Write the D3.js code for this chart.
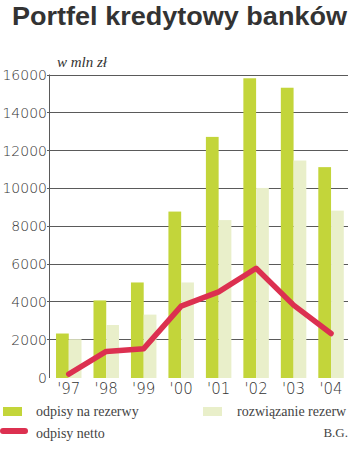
<!DOCTYPE html>
<html><head><meta charset="utf-8">
<script src="https://cdn.jsdelivr.net/npm/d3@7"></script>
<style>html,body{margin:0;padding:0;background:#fff;}svg{display:block;}</style>
</head><body>
<script>
const years = ["'97","'98","'99","'00","'01","'02","'03","'04"];
const odpisyNaRezerwy = [2300, 4050, 5000, 8750, 12700, 15800, 15300, 11100];
const rozwiazanieRezerw = [2000, 2750, 3300, 5000, 8300, 10000, 11450, 8800];
const odpisyNetto = [150, 1350, 1500, 3750, 4500, 5750, 3800, 2300];
const yTicks = [0, 2000, 4000, 6000, 8000, 10000, 12000, 14000, 16000];

const W = 350, H = 461;
const svg = d3.select("body").append("svg").attr("width", W).attr("height", H);

const cGreen = "#c3d53a", cLight = "#e9efca", cRed = "#dc3050", cText = "#333";
const serif = "'Liberation Serif', 'DejaVu Serif', serif";
const sans = "'DejaVu Sans', sans-serif";

svg.append("text").attr("x", 12).attr("y", 25)
  .attr("font-family", "'Liberation Sans', Arial, sans-serif").attr("font-weight", "bold")
  .attr("font-size", 25).attr("fill", cText)
  .attr("textLength", 335).attr("lengthAdjust", "spacingAndGlyphs")
  .text("Portfel kredytowy banków");

svg.append("text").attr("x", 57).attr("y", 67)
  .style("font-family", serif).style("font-style", "italic")
  .attr("font-size", 15).attr("fill", cText).text("w mln zł");

const y = d3.scaleLinear().domain([0, 16000]).range([377, 74.5]);
const x = d3.scaleBand().domain(years).range([49, 348]).paddingInner(0.32).paddingOuter(0.15).align(0.625);
const xs = d3.scaleBand().domain(["a", "b"]).range([0, x.bandwidth()]);

// gridlines
svg.append("g").selectAll("line").data(yTicks.filter(d => d > 0)).join("line")
  .attr("x1", 47).attr("x2", 348).attr("y1", d => Math.round(y(d)) + 0.5).attr("y2", d => Math.round(y(d)) + 0.5)
  .attr("stroke", "#5a5a5a").attr("stroke-width", 1);

// y tick labels
svg.append("g").selectAll("text").data(yTicks).join("text")
  .attr("x", 47).attr("y", d => y(d) + 5.5).attr("text-anchor", "end")
  .style("font-family", sans).style("font-weight", 300)
  .attr("font-size", 14).attr("fill", cText).text(d => d);

// bars
svg.append("g").selectAll("rect").data(years).join("rect")
  .attr("x", d => x(d) + xs("a")).attr("width", xs.bandwidth())
  .attr("y", (d, i) => y(odpisyNaRezerwy[i])).attr("height", (d, i) => y(0) + 1 - y(odpisyNaRezerwy[i]))
  .attr("fill", cGreen);
svg.append("g").selectAll("rect").data(years).join("rect")
  .attr("x", d => x(d) + xs("b")).attr("width", xs.bandwidth())
  .attr("y", (d, i) => y(rozwiazanieRezerw[i])).attr("height", (d, i) => y(0) + 1 - y(rozwiazanieRezerw[i]))
  .attr("fill", cLight);

// left axis line
svg.append("line").attr("x1", 49.5).attr("x2", 49.5).attr("y1", y(16000)).attr("y2", y(0) + 1)
  .attr("stroke", "#5a5a5a").attr("stroke-width", 1);

// line
const line = d3.line().x((d, i) => x(years[i]) + x.bandwidth() / 2).y(d => y(d));
svg.append("path").datum(odpisyNetto).attr("d", line)
  .attr("fill", "none").attr("stroke", cRed).attr("stroke-width", 5.5)
  .attr("stroke-linejoin", "round").attr("stroke-linecap", "round");

// x labels
svg.append("g").selectAll("text").data(years).join("text")
  .attr("x", d => x(d) + x.bandwidth() / 2).attr("y", 394).attr("text-anchor", "middle")
  .style("font-family", sans).style("font-weight", 300)
  .attr("font-size", 15).attr("fill", cText).text(d => d);

// legend
const lg = svg.append("g").style("font-family", serif).attr("font-size", 14).attr("fill", "#444");
lg.append("rect").attr("x", 3).attr("y", 407).attr("width", 19).attr("height", 9).attr("fill", cGreen);
lg.append("text").attr("x", 36).attr("y", 416).text("odpisy na rezerwy");
lg.append("rect").attr("x", 203).attr("y", 407).attr("width", 19).attr("height", 9).attr("fill", cLight);
lg.append("text").attr("x", 237).attr("y", 416).text("rozwiązanie rezerw");
lg.append("line").attr("x1", 3).attr("x2", 25).attr("y1", 431).attr("y2", 431)
  .attr("stroke", cRed).attr("stroke-width", 6).attr("stroke-linecap", "round");
lg.append("text").attr("x", 36).attr("y", 438).text("odpisy netto");
lg.append("text").attr("x", 348).attr("y", 437).attr("text-anchor", "end").attr("font-size", 13).text("B.G.");
</script>
</body></html>
